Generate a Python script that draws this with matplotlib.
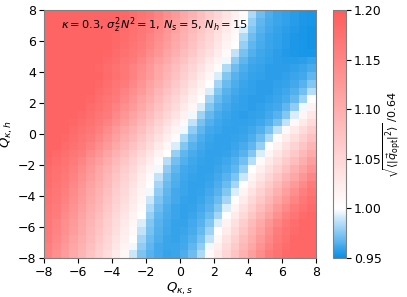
import numpy as np
import matplotlib
matplotlib.use("Agg")
import matplotlib.pyplot as plt
from matplotlib.colors import LinearSegmentedColormap, Normalize

# axis ranges
q_s_range = [-8, 8]
q_h_range = [-8, 8]
n_cells = 32

# values (in thousandths), rows from top (Q_h = 7.75) to bottom (Q_h = -7.75),
# columns from Q_s = -7.75 to 7.75
Z_milli = [
    [1190,1190,1190,1190,1190,1190,1190,1190,1190,1187,1180,1172,1165,1155,1140,1125,1110,1095,1080,1065,1050,1035,1020,1005,984,971,964,960,958,956,954,953],
    [1190,1190,1190,1190,1190,1190,1190,1190,1190,1185,1177,1170,1162,1150,1135,1120,1105,1090,1075,1060,1045,1030,1015,1000,979,968,963,960,958,956,954,953],
    [1190,1190,1190,1190,1190,1190,1190,1190,1190,1183,1175,1168,1160,1146,1130,1116,1100,1086,1070,1056,1040,1026,1010,992,975,966,962,959,957,955,953,952],
    [1190,1190,1190,1190,1190,1190,1190,1190,1187,1180,1172,1165,1155,1140,1125,1110,1095,1080,1065,1050,1035,1020,1005,984,971,964,960,958,956,954,953,952],
    [1190,1190,1190,1190,1190,1190,1190,1190,1185,1177,1170,1162,1150,1135,1120,1105,1090,1075,1060,1045,1030,1015,1000,979,968,963,960,958,956,954,953,952],
    [1190,1190,1190,1190,1190,1190,1190,1189,1181,1174,1166,1158,1142,1128,1112,1098,1082,1068,1052,1038,1022,1008,988,973,965,961,959,957,955,954,953,953],
    [1190,1190,1190,1190,1190,1190,1190,1184,1177,1169,1162,1148,1134,1118,1104,1088,1074,1058,1044,1028,1014,997,978,968,962,960,958,957,956,956,957,959],
    [1190,1190,1190,1190,1190,1190,1187,1180,1172,1165,1155,1140,1125,1110,1095,1080,1065,1050,1035,1020,1005,984,971,964,960,959,957,957,957,958,960,963],
    [1190,1190,1190,1190,1190,1190,1190,1182,1174,1166,1155,1139,1123,1107,1091,1075,1059,1043,1027,1011,992,975,966,962,959,958,957,957,958,960,962,968],
    [1190,1190,1190,1190,1190,1190,1186,1178,1170,1162,1147,1131,1115,1099,1083,1067,1051,1035,1019,1003,982,970,964,960,958,957,957,958,959,962,966,975],
    [1190,1190,1190,1190,1190,1190,1182,1174,1166,1155,1139,1123,1107,1091,1075,1059,1043,1027,1011,992,975,966,962,959,958,957,957,959,961,965,972,986],
    [1190,1190,1190,1190,1190,1186,1178,1170,1162,1147,1131,1115,1099,1083,1067,1051,1035,1019,1003,982,970,964,960,958,957,957,958,960,963,969,981,1002],
    [1190,1190,1190,1190,1190,1182,1174,1166,1155,1139,1123,1107,1091,1075,1059,1043,1027,1011,992,975,966,962,959,958,957,958,960,962,968,978,997,1016],
    [1190,1190,1190,1190,1185,1177,1169,1161,1146,1130,1114,1098,1082,1066,1050,1034,1018,997,981,969,963,960,958,957,958,959,962,966,975,992,1012,1030],
    [1190,1190,1190,1188,1180,1172,1164,1152,1136,1120,1104,1088,1072,1056,1040,1024,1008,988,973,965,961,959,958,958,959,961,965,973,988,1009,1026,1044],
    [1190,1190,1190,1183,1175,1167,1158,1142,1126,1110,1094,1078,1062,1046,1030,1014,997,978,968,962,960,958,958,959,961,965,973,988,1009,1026,1044,1061],
    [1190,1190,1186,1178,1170,1162,1149,1133,1117,1101,1085,1069,1053,1037,1021,1005,984,971,964,960,958,958,959,960,964,971,984,1005,1023,1040,1058,1075],
    [1190,1190,1182,1174,1166,1155,1139,1123,1107,1091,1075,1059,1043,1027,1011,992,975,966,962,959,958,958,960,963,968,979,1000,1018,1036,1054,1072,1090],
    [1190,1184,1176,1168,1160,1144,1128,1112,1096,1080,1064,1048,1032,1016,1000,979,968,963,960,958,958,959,962,966,975,992,1013,1031,1049,1067,1085,1103],
    [1187,1179,1171,1163,1150,1134,1118,1102,1086,1070,1054,1038,1022,1006,986,972,965,961,959,958,959,961,965,972,986,1007,1026,1044,1063,1081,1100,1118],
    [1183,1175,1167,1158,1142,1126,1110,1094,1078,1062,1046,1030,1014,997,978,968,962,960,958,958,960,963,968,979,1000,1019,1038,1057,1076,1095,1114,1133],
    [1180,1172,1164,1152,1136,1120,1104,1088,1072,1056,1040,1024,1008,988,973,965,961,959,958,959,962,966,974,990,1012,1031,1051,1070,1090,1109,1129,1148],
    [1178,1170,1162,1147,1131,1115,1099,1083,1067,1051,1035,1019,1003,982,970,964,960,958,958,960,964,970,982,1004,1024,1044,1064,1084,1104,1124,1144,1161],
    [1175,1167,1158,1142,1126,1110,1094,1078,1062,1046,1030,1014,997,978,968,962,960,958,959,962,966,975,992,1014,1035,1055,1076,1096,1117,1137,1158,1169],
    [1173,1165,1154,1138,1122,1106,1090,1074,1058,1042,1026,1010,990,974,966,962,959,958,960,964,970,982,1004,1025,1046,1067,1088,1109,1130,1151,1166,1176],
    [1170,1162,1149,1133,1117,1101,1085,1069,1053,1037,1021,1005,984,971,964,960,958,959,962,966,975,992,1015,1037,1058,1080,1101,1123,1144,1163,1173,1183],
    [1168,1160,1144,1128,1112,1096,1080,1064,1048,1032,1016,1000,979,968,963,960,958,960,964,970,982,1004,1026,1048,1070,1092,1114,1136,1158,1170,1181,1186],
    [1166,1155,1139,1123,1107,1091,1075,1059,1043,1027,1011,992,975,966,962,959,959,962,966,975,992,1016,1038,1061,1083,1106,1128,1151,1166,1178,1186,1186],
    [1164,1152,1136,1120,1104,1088,1072,1056,1040,1024,1008,988,973,965,961,959,960,963,969,981,1002,1025,1047,1070,1092,1115,1137,1160,1171,1182,1186,1186],
    [1162,1147,1131,1115,1099,1083,1067,1051,1035,1019,1003,982,970,964,960,959,961,965,973,988,1011,1034,1056,1079,1101,1124,1146,1164,1175,1186,1186,1186],
    [1158,1142,1126,1110,1094,1078,1062,1046,1030,1014,997,978,968,962,960,960,962,968,978,997,1020,1043,1065,1088,1110,1133,1155,1169,1180,1186,1186,1186],
    [1154,1138,1122,1106,1090,1074,1058,1042,1026,1010,990,974,966,962,959,960,964,971,984,1007,1029,1052,1074,1097,1119,1142,1162,1173,1184,1186,1186,1186],
]

ticks = [-8, -6, -4, -2, 0, 2, 4, 6, 8]
cbar_ticks = [0.95, 1.00, 1.05, 1.10, 1.15, 1.20]
vmin, vmax = 0.95, 1.20

Z = np.array(Z_milli, dtype=float)[::-1] / 1000.0
xe = np.linspace(q_s_range[0], q_s_range[1], n_cells + 1)
ye = np.linspace(q_h_range[0], q_h_range[1], n_cells + 1)

cmap = LinearSegmentedColormap.from_list(
    "bwr_custom",
    [(0.0, "#0a8fe6"), (0.2, "#ffffff"), (1.0, "#ff5c5c")])

fig = plt.figure(figsize=(4.07, 2.97), dpi=100)
ax = fig.add_axes([0.108, 0.131, 0.668, 0.835])
cax = fig.add_axes([0.818, 0.131, 0.033, 0.835])

mesh = ax.pcolormesh(xe, ye, Z, cmap=cmap, norm=Normalize(vmin, vmax),
                     shading="flat", rasterized=True)
ax.set_xlim(q_s_range)
ax.set_ylim(q_h_range)
ax.set_xticks(ticks)
ax.set_yticks(ticks)
ax.tick_params(labelsize=9, length=3.5, width=0.8, pad=2)
for s in ax.spines.values():
    s.set_color("#808080")
ax.set_xlabel(r"$Q_{\kappa,s}$", fontsize=9.5, labelpad=1)
ax.set_ylabel(r"$Q_{\kappa,h}$", fontsize=9.5, labelpad=2)

ax.text(0.062, 0.978,
        r"$\kappa = 0.3$, $\sigma_z^2 N^2 = 1$, $N_s = 5$, $N_h = 15$",
        transform=ax.transAxes, ha="left", va="top", fontsize=8.2)

cb = fig.colorbar(mesh, cax=cax, ticks=cbar_ticks)
cb.ax.set_yticklabels([f"{t:.2f}" for t in cbar_ticks])
cb.ax.tick_params(labelsize=9, length=3.5, width=0.8, pad=2)
cb.outline.set_edgecolor("#808080")
cb.set_label(r"$\sqrt{\langle|\vec{q}_{\rm opt}|^2\rangle}$ /0.64",
             fontsize=8, rotation=90)
cb.ax.yaxis.set_label_coords(3.55, 0.5)

fig.savefig("out.png", dpi=100)
